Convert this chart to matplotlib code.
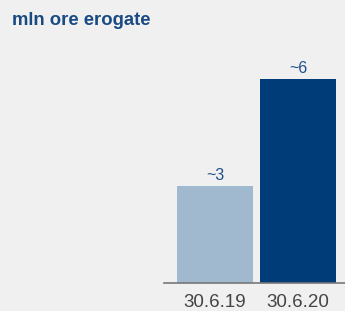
import matplotlib as mpl
from matplotlib import pyplot as plt

mpl.use("Agg")

categories = ["30.6.19", "30.6.20"]
values = [2.85, 6.0]
value_labels = ["~3", "~6"]
title = "mln ore erogate"

bar_colors = ["#a1b9cf", "#003d78"]
bg = "#f0f0f0"

plt.rcParams["font.family"] = ["Liberation Sans", "DejaVu Sans"]

fig = plt.figure(figsize=(3.45, 3.11), dpi=100, facecolor=bg)
ax = fig.add_axes([164 / 345, 28 / 311, 181 / 345, 255 / 311])
ax.set_facecolor(bg)

x = list(range(len(categories)))
bars = ax.bar(x, values, width=0.916, color=bar_colors)

for rect, lab in zip(bars, value_labels):
    ax.annotate(
        lab,
        (rect.get_x() + rect.get_width() / 2, rect.get_height()),
        xytext=(0, 2),
        textcoords="offset points",
        ha="center",
        va="bottom",
        fontsize=11.5,
        color="#1f4f8a",
    )

ax.set_xlim(-0.614, 1.566)
ax.set_ylim(0, 7.5)
ax.set_xticks(x)
ax.set_xticklabels(categories, fontsize=13.5, color="#444444")
ax.tick_params(axis="x", length=0, pad=8)
ax.set_yticks([])

for side in ["top", "right", "left"]:
    ax.spines[side].set_visible(False)
ax.spines["bottom"].set_color("#777777")
ax.spines["bottom"].set_linewidth(1.2)

fig.text(12 / 345, 1 - 25 / 311, title, fontsize=13.3, fontweight="bold",
         color="#1a4a82", ha="left", va="baseline")

fig.savefig("out.png", dpi=100, facecolor=bg)
